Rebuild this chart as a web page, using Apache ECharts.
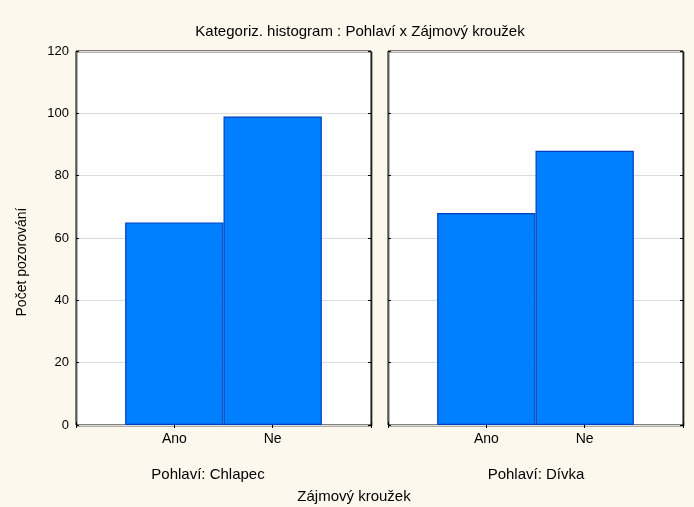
<!DOCTYPE html>
<html>
<head>
<meta charset="utf-8">
<script src="https://cdn.jsdelivr.net/npm/echarts@6/dist/echarts.min.js"></script>
<style>html,body{margin:0;padding:0;background:#fdf8ee;}#c{width:694px;height:507px;}</style>
</head>
<body>
<div id="c"></div>
<script>
const categories = ['Ano', 'Ne'];
const panels = ['Pohlaví: Chlapec', 'Pohlaví: Dívka'];
const chlapecValues = [65, 99];
const divkaValues = [68, 88];
const yTicks = [0, 20, 40, 60, 80, 100, 120];
const titleText = 'Kategoriz. histogram : Pohlaví x Zájmový kroužek';
const yName = 'Počet pozorování';
const xName = 'Zájmový kroužek';

const font = '"Liberation Sans", Arial, sans-serif';
const axisCats = [''].concat(categories, ['']);
const grids = [
  {left: 76, top: 51, width: 295, height: 374},
  {left: 388, top: 51, width: 295, height: 374}
].map(g => Object.assign(g, {show: true, backgroundColor: '#fff', borderColor: '#000', borderWidth: 1,
  shadowColor: 'rgba(0,0,0,0.6)', shadowOffsetX: 1, shadowOffsetY: 1, shadowBlur: 0}));

const xAxes = [], yAxes = [], series = [];
[chlapecValues, divkaValues].forEach((vals, i) => {
  xAxes.push({type: 'category', gridIndex: i, data: axisCats, boundaryGap: false, position: 'bottom',
    axisLine: {show: false}, axisTick: {inside: true, length: 3, lineStyle: {color: '#000'}},
    axisLabel: {color: '#000', fontSize: 14, fontFamily: font, margin: 7}, splitLine: {show: false}});
  xAxes.push({type: 'category', gridIndex: i, data: axisCats, boundaryGap: false, position: 'top',
    axisLine: {show: false}, axisTick: {inside: true, length: 3, lineStyle: {color: '#000'}},
    axisLabel: {show: false}, splitLine: {show: false}});
  yAxes.push({type: 'value', gridIndex: i, min: 0, max: 120, interval: 20, position: 'left',
    axisLine: {show: false}, axisTick: {show: true, inside: true, length: 3, lineStyle: {color: '#000'}},
    axisLabel: {show: i === 0, color: '#000', fontSize: 13, fontFamily: font, margin: 7,
      formatter: v => yTicks.includes(v) ? String(v) : ''},
    splitLine: {show: true, lineStyle: {color: '#dcdcdc', width: 1}}});
  yAxes.push({type: 'value', gridIndex: i, min: 0, max: 120, interval: 20, position: 'right',
    axisLine: {show: false}, axisTick: {show: true, inside: true, length: 3, lineStyle: {color: '#000'}},
    axisLabel: {show: false}, splitLine: {show: false}});
  series.push({type: 'bar', xAxisIndex: i * 2, yAxisIndex: i * 2, barWidth: '100%', barGap: '0%',
    data: ['-'].concat(vals, ['-']),
    itemStyle: {color: '#0080ff', borderColor: '#0040c0', borderWidth: 1.2},
    emphasis: {disabled: true}, animation: false});
});

const chart = echarts.init(document.getElementById('c'), null, {renderer: 'canvas'});
chart.setOption({
  backgroundColor: '#fdf8ee',
  animation: false,
  grid: grids,
  xAxis: xAxes,
  yAxis: yAxes,
  series: series,
  graphic: [
    {type: 'text', x: 360, y: 32, style: {text: titleText, font: '15px ' + font, fill: '#000', align: 'center', verticalAlign: 'middle'}},
    {type: 'text', x: 22, y: 262, rotation: Math.PI / 2, style: {text: yName, font: '14px ' + font, fill: '#000', align: 'center', verticalAlign: 'middle'}},
    {type: 'text', x: 208, y: 475, style: {text: panels[0], font: '15px ' + font, fill: '#000', align: 'center', verticalAlign: 'middle'}},
    {type: 'text', x: 536, y: 475, style: {text: panels[1], font: '15px ' + font, fill: '#000', align: 'center', verticalAlign: 'middle'}},
    {type: 'text', x: 354, y: 497, style: {text: xName, font: '15px ' + font, fill: '#000', align: 'center', verticalAlign: 'middle'}}
  ]
});
</script>
</body>
</html>
